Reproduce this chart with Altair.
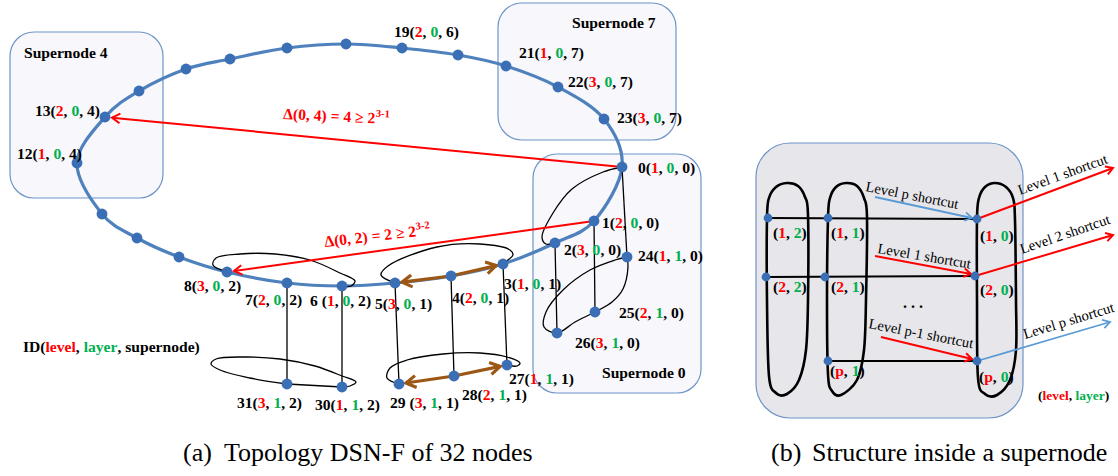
import math
import altair as alt
import pandas as pd

W, H = 1118, 476
RED, GREEN, BLACK = "#FF0000", "#00B050", "#000000"
BROWN = "#9C5714"
LBLUE = "#5B9BD5"
NODE = "#3A6EB5"
RING = "#4F81BD"
FONT = "Liberation Serif"
FS = 15.6

# ---------------- data ----------------
# ring (layer 0) nodes 0..23, layer-1 nodes 24..31 (diagram layout)
ring_x = [622, 594, 555, 503, 451, 395, 342, 287, 227, 179, 137, 102,
          77, 105, 139, 186, 230, 287, 346, 402, 458, 506, 558, 604]
ring_y = [167, 221, 243, 264, 276, 283, 286, 283, 272, 257, 238, 214,
          163, 117, 91, 69, 59, 48, 44, 48, 55, 66, 87, 119]
l1_ids = [24, 25, 26, 27, 28, 29, 30, 31]
l1_x = [627, 595, 557, 507, 454, 399, 342, 287]
l1_y = [257, 312, 333, 365, 376, 384, 387, 384]

# labelled nodes: id prefix, level, layer, supernode, label anchor
lab_prefix = ["0", "1", "2", "3", "4", "5", "6 ", "7", "8", "12", "13", "19", "21", "22", "23",
              "24", "25", "26", "27", "28", "29 ", "30", "31"]
lab_level = [1, 2, 3, 1, 2, 3, 1, 2, 3, 1, 2, 2, 1, 3, 3, 1, 2, 3, 1, 2, 3, 1, 3]
lab_layer = [0] * 15 + [1] * 8
lab_super = [0, 0, 0, 1, 1, 1, 2, 2, 2, 4, 4, 6, 7, 7, 7, 0, 0, 0, 1, 1, 1, 2, 2]
lab_x = [638, 602, 564, 504, 452, 375, 310, 245, 184, 17, 35, 394, 519, 568, 617,
         638, 619, 575, 509, 462, 390, 315, 237]
lab_y = [173, 228, 255, 289, 303, 309, 306, 305, 291, 159, 116, 37, 58, 87, 123,
         261, 318, 348, 384, 400, 408, 410, 408]

# supernode boxes
box_names = ["Supernode 4", "Supernode 7", "Supernode 0"]
box_x1 = [10, 498, 533]
box_x2 = [163, 676, 701]
box_y1 = [32, 3, 154]
box_y2 = [198, 140, 393]
box_title_x = [24, 572, 602]
box_title_y = [58, 28, 378]

# inner-supernode black curves (open paths through nodes)
curves = {
    "sn2_top": [(227, 272), (213, 265), (216, 258), (240, 254), (275, 254), (310, 260),
                (340, 273), (355, 281), (351, 286), (342, 286)],
    "sn2_bot": [(287, 384), (250, 378), (220, 370), (211, 364), (216, 359), (245, 357),
                (280, 359), (315, 366), (342, 376), (356, 382), (350, 386), (342, 387)],
    "sn1_top": [(395, 283), (381, 275), (388, 266), (437, 247), (480, 244), (510, 250),
                (513, 255), (508, 260), (503, 264)],
    "sn1_bot": [(399, 384), (387, 378), (390, 368), (407, 360), (443, 354), (480, 353),
                (507, 357), (520, 363), (517, 366), (507, 365)],
    "sn0_top": [(622, 167), (603, 172), (572, 189), (553, 213), (542, 237), (546, 244), (556, 242)],
    "sn0_bot": [(627, 257), (628, 267), (623, 289), (612, 302), (595, 312), (575, 322),
                (557, 333), (544, 327), (546, 312), (563, 290), (590, 270), (615, 260), (627, 257)],
}
# vertical links layer0 -> layer1 and the 31-30 link
links = [(7, 31), (6, 30), (5, 29), (4, 28), (3, 27), (2, 26), (1, 25), (0, 24), (31, 30)]
# brown two-way arrows (from, to)
brown_arrows = [(4, 5), (4, 3), (28, 29), (28, 27)]
# red shortcut arrows (from, to)
red_arrows = [(0, 13), (1, 8)]

# ---- panel (b) ----
panel = (756, 143, 1023, 418)
b_lvl = ["1", "1", "1", "2", "2", "2", "p", "p"]
b_lay = ["2", "1", "0", "2", "1", "0", "1", "0"]
b_x = [768, 828, 977, 766, 825, 975, 828, 977]
b_y = [218, 218, 219, 277, 277, 276, 361, 361]
b_lx = [773, 831, 980, 773, 831, 980, 830, 979]
b_ly = [238, 238, 241, 292, 292, 295, 376, 382]
b_rows = [(0, 2), (3, 5), (6, 7)]
ovals = {
    "c2": [(767, 218), (769, 198), (776, 187), (787, 183), (798, 186), (805, 197), (808, 215),
           (808, 300), (806, 350), (799, 380), (787, 394), (776, 393), (769, 376), (767, 300)],
    "c1": [(828, 218), (830, 198), (836, 187), (846, 183), (857, 186), (864, 198), (867, 217),
           (866, 300), (864, 350), (857, 380), (841, 395), (832, 391), (828, 374), (827, 300)],
    "c0": [(977, 219), (979, 198), (985, 187), (995, 183), (1006, 187), (1013, 198), (1015, 220),
           (1016, 300), (1016, 350), (1010, 380), (997, 395), (985, 394), (978, 378), (977, 300)],
}
b_arrows = [  # start, tip, colour
    ((875, 197), (972, 218), LBLUE),
    ((875, 256), (971, 274), RED),
    ((881, 337), (972, 359), RED),
    ((977, 219), (1113, 168), RED),
    ((975, 276), (1113, 235), RED),
    ((977, 361), (1110, 322), LBLUE),
]
b_texts = ["Level p shortcut", "Level 1 shortcut", "Level p-1 shortcut",
           "Level 1 shortcut", "Level 2 shortcut", "Level p shortcut"]
b_text_x = [865, 877, 868, 1020, 1022, 1025]
b_text_y = [191, 253, 328, 195, 254, 339]
b_text_angle = [11, 9.5, 11, -20, -19, -17]

captions = [("(a)", 183), ("Topology DSN-F of 32 nodes", 224),
            ("(b)", 771), ("Structure inside a supernode", 812)]

# ---------------- helpers ----------------
TB = {"(": 333, ")": 333, ",": 250, " ": 250, "Δ": 612, "≥": 549, "=": 570, "-": 333,
      "l": 278, "e": 444, "v": 500, "a": 500, "y": 500, "r": 444, "s": 389, "u": 556,
      "p": 556, "n": 556, "o": 500, "d": 556, "I": 389, "D": 722, "S": 556}


def tw(s, size):
    return sum(TB.get(c, 500) for c in s) / 1000.0 * size


pos = {i: (ring_x[i], ring_y[i]) for i in range(24)}
for i, x, y in zip(l1_ids, l1_x, l1_y):
    pos[i] = (x, y)

xs = alt.Scale(domain=[0, W], nice=False, zero=False)
ys = alt.Scale(domain=[0, H], nice=False, zero=False, reverse=True)


def X(f="x"):
    return alt.X(f"{f}:Q", scale=xs, axis=None)


def Y(f="y"):
    return alt.Y(f"{f}:Q", scale=ys, axis=None)


# ---------------- layers ----------------
boxes_df = pd.DataFrame({"x": box_x1, "x2": box_x2, "y": box_y1, "y2": box_y2})
boxes = alt.Chart(boxes_df).mark_rect(cornerRadius=24, fill="#F8F7FB", stroke="#6F94C6",
                                       strokeWidth=1.2).encode(
    x=X(), x2="x2:Q", y=Y(), y2="y2:Q")
panel_df = pd.DataFrame({"x": [panel[0]], "x2": [panel[2]], "y": [panel[1]], "y2": [panel[3]]})
panel_box = alt.Chart(panel_df).mark_rect(cornerRadius=34, fill="#E7E6EA", stroke="#6F94C6",
                                          strokeWidth=1.2).encode(
    x=X(), x2="x2:Q", y=Y(), y2="y2:Q")

ring_df = pd.DataFrame({"x": ring_x, "y": ring_y, "o": list(range(24))})
ring = alt.Chart(ring_df).mark_line(interpolate="cardinal-closed", color=RING,
                                    strokeWidth=3.2).encode(x=X(), y=Y(), order="o:Q")

rows = []
for g, pts in curves.items():
    for k, (x, y) in enumerate(pts):
        rows.append({"g": g, "x": x, "y": y, "o": k})
curves_df = pd.DataFrame(rows)
curve_layer = alt.Chart(curves_df).mark_line(interpolate="catmull-rom", color=BLACK,
                                             strokeWidth=1.3).encode(
    x=X(), y=Y(), detail="g:N", order="o:Q")

link_df = pd.DataFrame([{"x": pos[a][0], "y": pos[a][1], "x2": pos[b][0], "y2": pos[b][1]}
                        for a, b in links])
link_layer = alt.Chart(link_df).mark_rule(color=BLACK, strokeWidth=1.3).encode(
    x=X(), y=Y(), x2="x2:Q", y2="y2:Q")

rows = []
for g, pts in ovals.items():
    for k, (x, y) in enumerate(pts):
        rows.append({"g": g, "x": x, "y": y, "o": k})
ovals_df = pd.DataFrame(rows)
oval_layer = alt.Chart(ovals_df).mark_line(interpolate="cardinal-closed", color=BLACK,
                                           strokeWidth=2.6).encode(
    x=X(), y=Y(), detail="g:N", order="o:Q")

hrow_df = pd.DataFrame([{"x": b_x[a], "y": b_y[a], "x2": b_x[b], "y2": b_y[b]} for a, b in b_rows])
hrow_layer = alt.Chart(hrow_df).mark_rule(color=BLACK, strokeWidth=1.8).encode(
    x=X(), y=Y(), x2="x2:Q", y2="y2:Q")

# arrows
arr = []


def add_arrow(p0, tip, color, width, head):
    dx, dy = tip[0] - p0[0], tip[1] - p0[1]
    ang = math.degrees(math.atan2(dy, dx)) % 360
    arr.append({"x": p0[0], "y": p0[1], "x2": tip[0], "y2": tip[1], "c": color,
                "w": width, "s": head, "a": ang})


def shorten(a, b, r):
    (x0, y0), (x1, y1) = pos[a], pos[b]
    d = math.hypot(x1 - x0, y1 - y0)
    return (x1 - (x1 - x0) / d * r, y1 - (y1 - y0) / d * r)


for a, b in red_arrows:
    add_arrow(pos[a], shorten(a, b, 7), RED, 2.0, 256)
for a, b in brown_arrows:
    add_arrow(pos[a], shorten(a, b, 7), BROWN, 3.2, 400)
for p0, tip, c in b_arrows:
    add_arrow(p0, tip, c, 2.0 if c == RED else 1.8, 200)
arr_df = pd.DataFrame(arr)
arrow_lines = alt.Chart(arr_df).mark_rule().encode(
    x=X(), y=Y(), x2="x2:Q", y2="y2:Q",
    color=alt.Color("c:N", scale=None), strokeWidth=alt.StrokeWidth("w:Q", scale=None))
arrow_heads = alt.Chart(arr_df).mark_point(
    shape="M-1,-0.6L0,0L-1,0.6", filled=False, opacity=1, strokeJoin="miter").encode(
    x=X("x2"), y=Y("y2"), color=alt.Color("c:N", scale=None),
    strokeWidth=alt.StrokeWidth("w:Q", scale=None),
    size=alt.Size("s:Q", scale=None), angle=alt.Angle("a:Q", scale=None))

nodes_df = pd.DataFrame(
    [{"x": pos[i][0], "y": pos[i][1], "s": 118} for i in pos] +
    [{"x": x, "y": y, "s": 78} for x, y in zip(b_x, b_y)])
nodes = alt.Chart(nodes_df).mark_circle(color=NODE, opacity=1).encode(
    x=X(), y=Y(), size=alt.Size("s:Q", scale=None))

# bold texts (coloured segments)
bt = []


def seg_text(parts, x0, y0, size, angle=0.0):
    th = math.radians(angle)
    off = 0.0
    for s, c in parts:
        bt.append({"x": x0 + off * math.cos(th), "y": y0 + off * math.sin(th), "t": s, "c": c,
                   "f": size, "a": angle % 360})
        off += tw(s, size)
    return off


for p, lv, ly, sn, x, y in zip(lab_prefix, lab_level, lab_layer, lab_super, lab_x, lab_y):
    seg_text([(p + "(", BLACK), (str(lv), RED), (", ", BLACK), (str(ly), GREEN),
              (", " + str(sn) + ")", BLACK)], x, y, FS)
for lv, ly, x, y in zip(b_lvl, b_lay, b_lx, b_ly):
    seg_text([("(", BLACK), (lv, RED), (", ", BLACK), (ly, GREEN), (")", BLACK)], x, y, FS)
for n, x, y in zip(box_names, box_title_x, box_title_y):
    seg_text([(n, BLACK)], x, y, FS)
seg_text([("ID(", BLACK), ("level", RED), (", ", BLACK), ("layer", GREEN),
          (", supernode)", BLACK)], 23, 352, FS)
seg_text([("(", BLACK), ("level", RED), (", ", BLACK), ("layer", GREEN), (")", BLACK)],
         1038, 400, 13.5)
bt.append({"x": 923 - tw(".  .  .", 16) / 2, "y": 308, "t": ".  .  .", "c": BLACK, "f": 16, "a": 0})

# delta labels with superscripts
for main, sup, x0, y0, ang in [("Δ(0, 4) = 4 ≥ 2", "3-1", 283, 119, 2.7),
                               ("Δ(0, 2) = 2 ≥ 2", "3-2", 325, 247, -6.7)]:
    wmain = seg_text([(main, RED)], x0, y0, FS, ang)
    th = math.radians(ang)
    rise = 6.5
    sx = x0 + (wmain + 0.5) * math.cos(th) + rise * math.sin(th)
    sy = y0 + (wmain + 0.5) * math.sin(th) - rise * math.cos(th)
    bt.append({"x": sx, "y": sy, "t": sup, "c": RED, "f": 10.5, "a": ang % 360})

bt_df = pd.DataFrame(bt)
bold_text = alt.Chart(bt_df).mark_text(font=FONT, fontWeight="bold", align="left",
                                       baseline="alphabetic").encode(
    x=X(), y=Y(), text="t:N", color=alt.Color("c:N", scale=None),
    size=alt.Size("f:Q", scale=None), angle=alt.Angle("a:Q", scale=None))

# regular texts
rt = [{"x": x, "y": y, "t": t, "f": 14.5, "a": a % 360}
      for t, x, y, a in zip(b_texts, b_text_x, b_text_y, b_text_angle)]
rt += [{"x": x, "y": 461, "t": t, "f": 26, "a": 0} for t, x in captions]
rt_df = pd.DataFrame(rt)
reg_text = alt.Chart(rt_df).mark_text(font=FONT, align="left", baseline="alphabetic",
                                      color=BLACK).encode(
    x=X(), y=Y(), text="t:N", size=alt.Size("f:Q", scale=None),
    angle=alt.Angle("a:Q", scale=None))

chart = alt.layer(
    boxes, panel_box, ring, curve_layer, link_layer, oval_layer, hrow_layer,
    arrow_lines, arrow_heads, nodes, bold_text, reg_text
).properties(width=W, height=H, padding=0, autosize="none", background="white"
             ).configure_view(stroke=None)

chart.save("out.html", embed_options={"renderer": "svg", "actions": False})
